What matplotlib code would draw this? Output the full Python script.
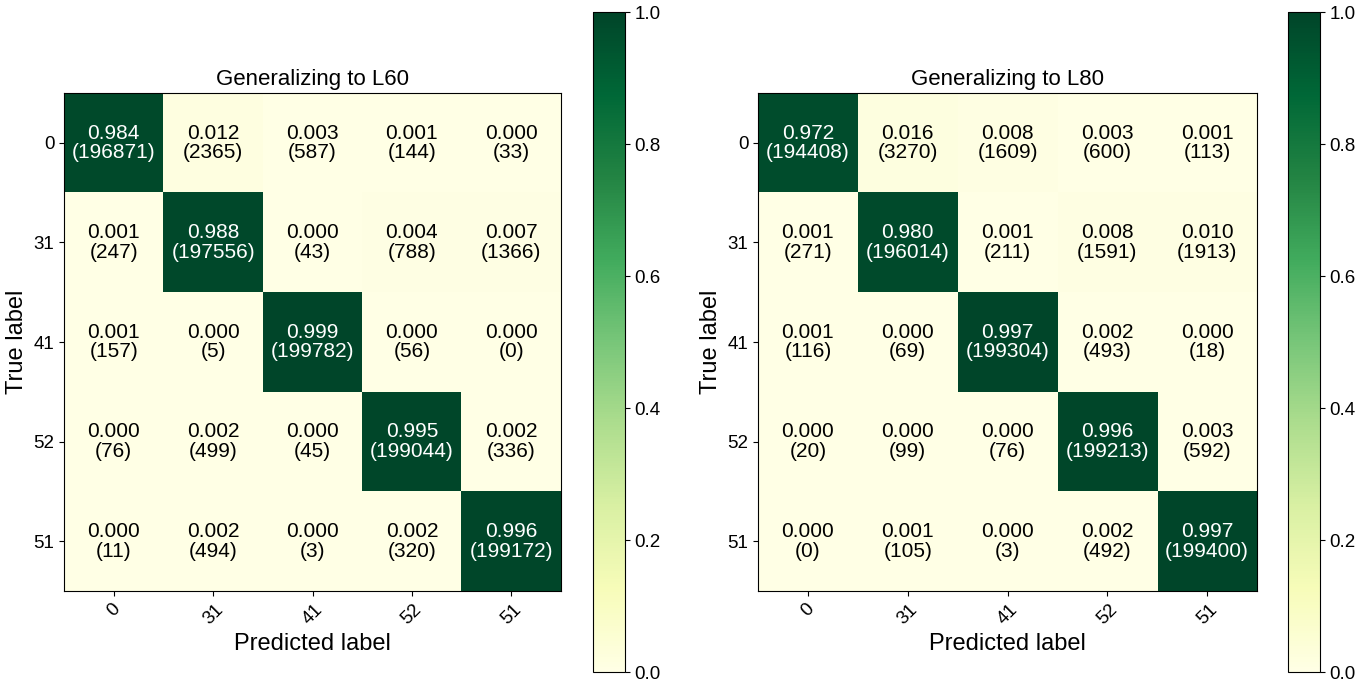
import numpy as np
import matplotlib

matplotlib.use('Agg')
import matplotlib.pyplot as plt

plt.rcParams['font.family'] = ['Liberation Sans', 'DejaVu Sans']

class_labels = ['0', '31', '41', '52', '51']

counts_l60 = [
    [196871, 2365, 587, 144, 33],
    [247, 197556, 43, 788, 1366],
    [157, 5, 199782, 56, 0],
    [76, 499, 45, 199044, 336],
    [11, 494, 3, 320, 199172],
]

counts_l80 = [
    [194408, 3270, 1609, 600, 113],
    [271, 196014, 211, 1591, 1913],
    [116, 69, 199304, 493, 18],
    [20, 99, 76, 199213, 592],
    [0, 105, 3, 492, 199400],
]

titles = ['Generalizing to L60', 'Generalizing to L80']


def plot_cm(ax, cax, counts, title):
    cm = np.array(counts, dtype=float)
    norm = cm / cm.sum(axis=1, keepdims=True)
    im = ax.imshow(norm, cmap='YlGn', vmin=0, vmax=1, interpolation='nearest', aspect='auto')
    ax.set_title(title, fontsize=16)
    n = len(class_labels)
    ax.set_xticks(range(n))
    ax.set_yticks(range(n))
    ax.set_xticklabels(class_labels, rotation=45, fontsize=13.5)
    ax.set_yticklabels(class_labels, fontsize=13.5)
    for i in range(n):
        for j in range(n):
            color = 'white' if norm[i, j] > 0.5 else 'black'
            ax.text(j, i, '%.3f\n(%d)' % (norm[i, j], counts[i][j]),
                    ha='center', va='center', color=color, fontsize=15,
                    linespacing=1.05)
    ax.set_ylabel('True label', fontsize=17)
    ax.set_xlabel('Predicted label', fontsize=17)
    cb = plt.colorbar(im, cax=cax)
    cb.ax.tick_params(labelsize=13.5)
    cb.set_ticks([0, 0.2, 0.4, 0.6, 0.8, 1.0])


fig = plt.figure(figsize=(13.71, 6.83), dpi=100)
ax1 = fig.add_axes([0.0467, 0.1347, 0.3625, 0.729])
cax1 = fig.add_axes([0.4325, 0.0161, 0.0233, 0.966])
ax2 = fig.add_axes([0.5529, 0.1347, 0.3640, 0.729])
cax2 = fig.add_axes([0.9394, 0.0161, 0.0233, 0.966])

plot_cm(ax1, cax1, counts_l60, titles[0])
plot_cm(ax2, cax2, counts_l80, titles[1])

fig.savefig('out.png', dpi=100)
